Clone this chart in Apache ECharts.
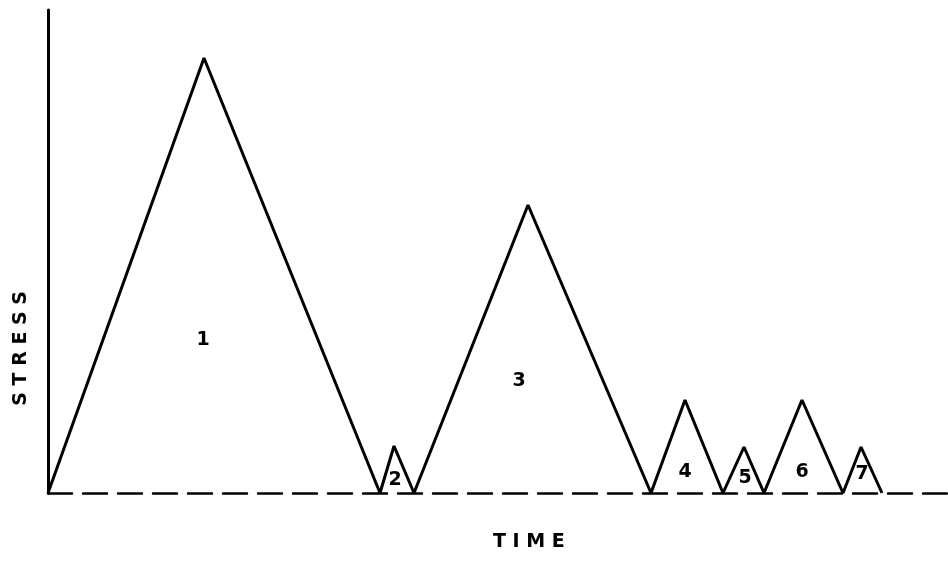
<!DOCTYPE html>
<html>
<head>
<meta charset="utf-8">
<script src="https://cdn.jsdelivr.net/npm/echarts@6/dist/echarts.min.js"></script>
<style>
  html, body { margin: 0; padding: 0; background: #fff; }
  #main { width: 948px; height: 561px; }
</style>
</head>
<body>
<div id="main"></div>
<script>
// stress history, time / stress in arbitrary units
const times = [0, 156, 332, 346, 366, 480, 603, 637, 675, 696, 716, 754, 795, 813, 834];
const stress = [0, 435, 0, 47, 0, 288, 0, 93, 0, 46, 0, 93, 0, 46, 0];

// cycle numbers and where they sit
const cycleNames = ['1', '2', '3', '4', '5', '6', '7'];
const cycleX = [155, 347, 471, 637, 697, 754, 814];
const cycleY = [153, 13, 112, 21, 15, 21, 19];

const chart = echarts.init(document.getElementById('main'));

const lineData = times.map((t, i) => [t, stress[i]]);
const labelData = cycleNames.map((n, i) => ({ name: n, value: [cycleX[i], cycleY[i]] }));

const option = {
  animation: false,
  backgroundColor: '#fff',
  grid: { left: 48, right: 0, top: 10, bottom: 68 },
  xAxis: {
    type: 'value',
    min: 0,
    max: 900,
    axisLine: { show: true, onZero: false, lineStyle: { color: '#000', width: 2.5, type: [24, 11] } },
    axisTick: { show: false },
    axisLabel: { show: false },
    splitLine: { show: false }
  },
  yAxis: {
    type: 'value',
    min: 0,
    max: 483,
    axisLine: { show: true, lineStyle: { color: '#000', width: 3 } },
    axisTick: { show: false },
    axisLabel: { show: false },
    splitLine: { show: false }
  },
  graphic: [
    {
      type: 'text',
      left: 12,
      top: 291,
      rotation: Math.PI / 2,
      style: {
        text: 'S T R E S S',
        fill: '#000',
        font: 'bold 19px "DejaVu Sans"'
      }
    },
    {
      type: 'text',
      left: 493,
      top: 533,
      style: {
        text: 'T I M E',
        fill: '#000',
        font: 'bold 19px "DejaVu Sans"'
      }
    }
  ],
  series: [
    {
      type: 'line',
      data: lineData,
      symbol: 'none',
      lineStyle: { color: '#000', width: 3 },
      z: 3
    },
    {
      type: 'scatter',
      data: labelData,
      symbolSize: 0,
      itemStyle: { color: '#000', opacity: 1 },
      label: {
        show: true,
        position: 'inside',
        formatter: '{b}',
        color: '#000',
        textBorderWidth: 0,
        fontSize: 19,
        fontWeight: 'bold',
        fontFamily: 'DejaVu Sans'
      }
    }
  ]
};

chart.setOption(option);
</script>
</body>
</html>
